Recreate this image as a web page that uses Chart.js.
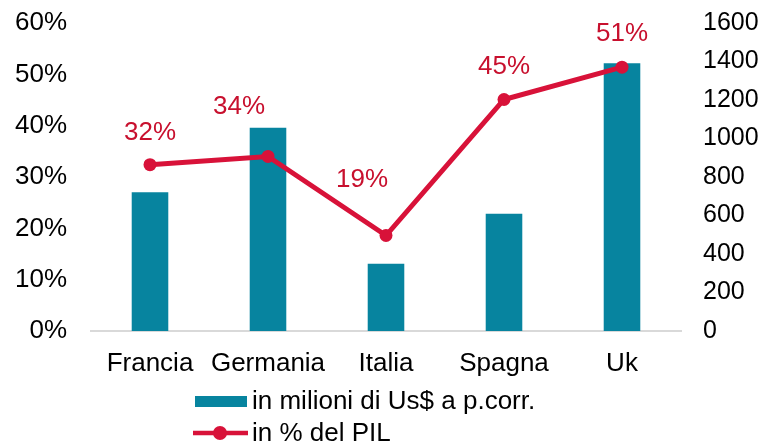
<!DOCTYPE html>
<html>
<head>
<meta charset="utf-8">
<script src="https://cdn.jsdelivr.net/npm/chart.js@4/dist/chart.umd.min.js"></script>
<style>
  html, body { margin: 0; padding: 0; background: #fff; }
  #wrap { width: 765px; height: 443px; }
</style>
</head>
<body>
<div id="wrap"><canvas id="chart" width="765" height="443"></canvas></div>
<script>
// data
const categories = ['Francia', 'Germania', 'Italia', 'Spagna', 'Uk'];
const valueUsd = [721, 1056, 350, 609, 1391];       // in milioni di Us$ (right axis)
const pctPil = [32.4, 34.0, 18.6, 45.1, 51.4];      // in % del PIL (left axis)
const pctTicks = [0, 10, 20, 30, 40, 50, 60];
const usdTicks = [0, 200, 400, 600, 800, 1000, 1200, 1400, 1600];

const barLabel = 'in milioni di Us$ a p.corr.';
const lineLabel = 'in % del PIL';

const FONT = '"Liberation Sans", Arial, sans-serif';
const TEAL = '#07849F';
const CRIMSON = '#D81239';
const LABEL_RED = '#C8102E';

// label nudges (px) so the labels clear the line, as in the original
const labelDx = [0, -29, -24, 0, 0];
const labelDy = [-32, -50, -56, -33, -33];

// percent labels above the line points
const pointLabels = {
    id: 'pointLabels',
    afterDatasetsDraw(chart) {
        const ctx = chart.ctx;
        const meta = chart.getDatasetMeta(1);
        ctx.save();
        ctx.font = '26px ' + FONT;
        ctx.fillStyle = LABEL_RED;
        ctx.textAlign = 'center';
        ctx.textBaseline = 'middle';
        meta.data.forEach((pt, i) => {
            ctx.fillText(Math.round(pctPil[i]) + '%', pt.x + labelDx[i], pt.y + labelDy[i]);
        });
        ctx.restore();
    }
};

// stacked legend below the axis, like the original
const stackedLegend = {
    id: 'stackedLegend',
    afterDraw(chart) {
        const ctx = chart.ctx;
        const ds = chart.data.datasets;
        ctx.save();
        ctx.font = '26px ' + FONT;
        ctx.textAlign = 'left';
        ctx.textBaseline = 'middle';

        ctx.fillStyle = ds[0].backgroundColor;
        ctx.fillRect(195, 396, 52, 11);
        ctx.fillStyle = '#000';
        ctx.fillText(ds[0].label, 252, 402);

        ctx.strokeStyle = ds[1].borderColor;
        ctx.lineWidth = 4.5;
        ctx.beginPath();
        ctx.moveTo(193, 433);
        ctx.lineTo(248, 433);
        ctx.stroke();
        ctx.fillStyle = ds[1].borderColor;
        ctx.beginPath();
        ctx.arc(220, 433, 7, 0, Math.PI * 2);
        ctx.fill();
        ctx.fillStyle = '#000';
        ctx.fillText(ds[1].label, 252, 434);
        ctx.restore();
    }
};

// fixed axis sizes so the plot area sits where the original one does
function fixY(width) {
    return function (scale) {
        scale.width = width;
        scale.paddingTop = 0;
        scale.paddingBottom = 0;
    };
}

const ctx = document.getElementById('chart').getContext('2d');
new Chart(ctx, {
    data: {
        labels: categories,
        datasets: [
            {
                type: 'bar',
                label: barLabel,
                data: valueUsd,
                yAxisID: 'yUsd',
                backgroundColor: TEAL,
                borderWidth: 0,
                categoryPercentage: 1,
                barPercentage: 0.31,
                order: 2
            },
            {
                type: 'line',
                label: lineLabel,
                data: pctPil,
                yAxisID: 'yPct',
                borderColor: CRIMSON,
                backgroundColor: CRIMSON,
                borderWidth: 5,
                pointRadius: 6.5,
                pointBackgroundColor: CRIMSON,
                pointBorderWidth: 0,
                tension: 0,
                order: 1
            }
        ]
    },
    options: {
        responsive: false,
        animation: false,
        layout: { padding: { top: 23, left: 0, right: 0, bottom: 0 } },
        plugins: {
            legend: { display: false },
            tooltip: { enabled: false }
        },
        scales: {
            x: {
                offset: true,
                grid: { display: false, drawTicks: false },
                border: { display: true, color: '#D9D9D9', width: 2 },
                ticks: { color: '#000', font: { family: FONT, size: 26 }, padding: 17, maxRotation: 0 },
                afterFit: function (scale) { scale.height = 112; }
            },
            yPct: {
                position: 'left',
                min: 0,
                max: 60,
                afterBuildTicks: function (scale) { scale.ticks = pctTicks.map(v => ({ value: v })); },
                grid: { display: false, drawTicks: false },
                border: { display: false },
                ticks: {
                    color: '#000',
                    font: { family: FONT, size: 26 },
                    padding: 24,
                    callback: function (value) { return value + '%'; }
                },
                afterFit: fixY(91)
            },
            yUsd: {
                position: 'right',
                min: 0,
                max: 1600,
                afterBuildTicks: function (scale) { scale.ticks = usdTicks.map(v => ({ value: v })); },
                grid: { display: false, drawTicks: false },
                border: { display: false },
                ticks: {
                    color: '#000',
                    font: { family: FONT, size: 25 },
                    padding: 22,
                    callback: function (value) { return String(value); }
                },
                afterFit: fixY(84)
            }
        }
    },
    plugins: [pointLabels, stackedLegend]
});
</script>
</body>
</html>
